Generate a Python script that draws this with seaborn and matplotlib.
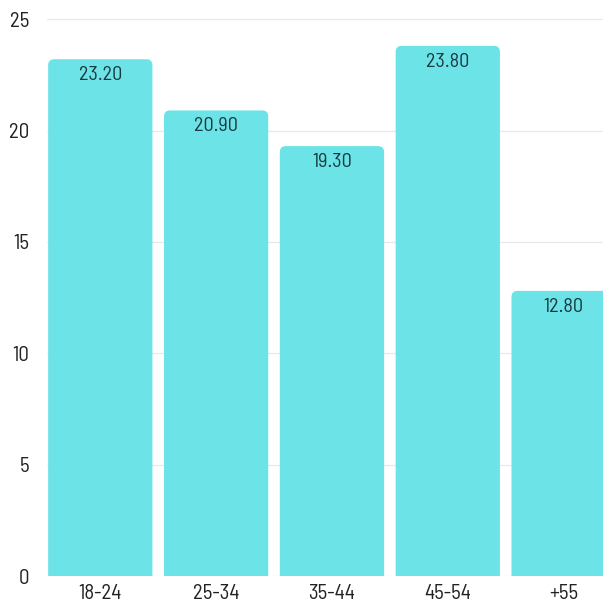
import matplotlib
matplotlib.use("Agg")
import matplotlib.pyplot as plt
import seaborn as sns
import pandas as pd
from matplotlib.patches import FancyBboxPatch

categories = ["18-24", "25-34", "35-44", "45-54", "+55"]
values = [23.20, 20.90, 19.30, 23.80, 12.80]
yticks = [0, 5, 10, 15, 20, 25]

sns.set_theme(style="white")
plt.rcParams["font.family"] = ["Barlow Semi Condensed", "DejaVu Sans"]

bar_color = "#6be3e7"
text_color = "#1a3840"

fig = plt.figure(figsize=(6.03, 6.05), dpi=100)
ax = fig.add_axes([47 / 603, 1 - 576 / 605, 1 - 47 / 603, (576 - 8) / 605])

df = pd.DataFrame({"cat": categories, "val": values})
sns.barplot(data=df, x="cat", y="val", color=bar_color, width=0.9,
            saturation=1, ax=ax, zorder=3)

ax.set_xlim(-0.46, 4.34)
ax.set_ylim(0, 25.5)

# rounded top corners
x_px = 116.0
y_px = 22.28
r = 6 / x_px
aspect = x_px / y_px
for p in list(ax.patches):
    x, y, w, h = p.get_x(), p.get_y(), p.get_width(), p.get_height()
    p.remove()
    fb = FancyBboxPatch((x, y - 1), w, h + 1,
                        boxstyle=f"round,pad=0,rounding_size={r}",
                        mutation_aspect=aspect, facecolor=bar_color,
                        edgecolor="none", zorder=3, clip_on=True)
    ax.add_patch(fb)

for i, v in enumerate(values):
    ax.annotate(f"{v:.2f}", xy=(i, v), xytext=(0, -5), textcoords="offset points",
                ha="center", va="top", fontsize=14.5, fontweight="normal",
                color=text_color, zorder=4)

ax.set_yticks(yticks)
ax.set_yticklabels([str(t) for t in yticks])
ax.grid(axis="y", color="#e8e8e8", linewidth=0.9, zorder=0)
ax.grid(axis="x", visible=False)
for s in ax.spines.values():
    s.set_visible(False)
ax.tick_params(axis="y", length=0, pad=13, labelsize=15, labelcolor="#222222")
ax.tick_params(axis="x", length=0, pad=6, labelsize=15, labelcolor="#222222")
ax.set_xlabel("")
ax.set_ylabel("")

fig.savefig("out.png", dpi=100)
